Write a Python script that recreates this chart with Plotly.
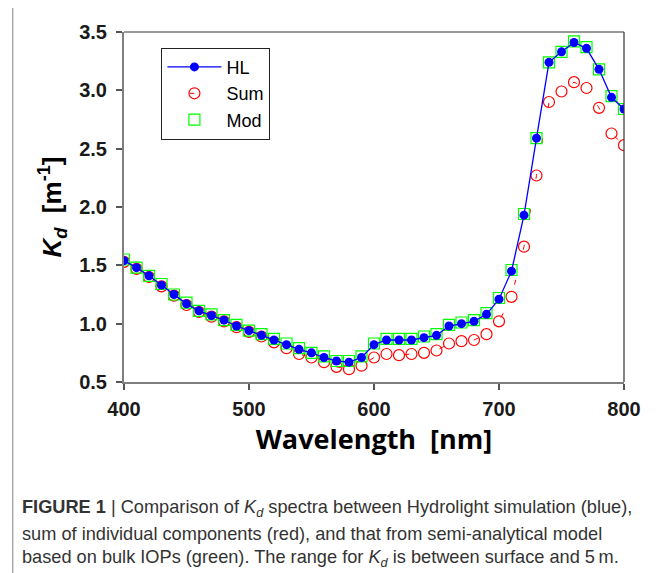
import plotly.graph_objects as go

wavelength = [400, 410, 420, 430, 440, 450, 460, 470, 480, 490,
              500, 510, 520, 530, 540, 550, 560, 570, 580, 590,
              600, 610, 620, 630, 640, 650, 660, 670, 680, 690,
              700, 710, 720, 730, 740, 750, 760, 770, 780, 790, 800]

kd_hl = [1.54, 1.48, 1.41, 1.33, 1.25, 1.17, 1.11, 1.07, 1.03, 0.98,
         0.94, 0.90, 0.86, 0.82, 0.78, 0.75, 0.71, 0.68, 0.67, 0.71,
         0.82, 0.86, 0.86, 0.86, 0.88, 0.90, 0.98, 1.00, 1.02, 1.08,
         1.21, 1.45, 1.93, 2.59, 3.24, 3.33, 3.41, 3.36, 3.18, 2.94, 2.84]

kd_sum = [1.53, 1.47, 1.40, 1.32, 1.24, 1.16, 1.10, 1.06, 1.02, 0.97,
          0.93, 0.89, 0.84, 0.79, 0.74, 0.71, 0.67, 0.63, 0.61, 0.64,
          0.71, 0.74, 0.73, 0.74, 0.75, 0.77, 0.83, 0.85, 0.86, 0.91,
          1.02, 1.23, 1.66, 2.27, 2.90, 2.99, 3.07, 3.02, 2.85, 2.63, 2.53]

kd_mod = [1.55, 1.48, 1.41, 1.34, 1.25, 1.18, 1.11, 1.08, 1.03, 0.99,
          0.94, 0.91, 0.87, 0.83, 0.79, 0.75, 0.72, 0.68, 0.68, 0.72,
          0.83, 0.87, 0.87, 0.87, 0.89, 0.91, 0.99, 1.01, 1.03, 1.09,
          1.22, 1.46, 1.94, 2.59, 3.24, 3.33, 3.42, 3.37, 3.18, 2.95, 2.84]

x_ticks = [400, 500, 600, 700, 800]
y_ticks = [0.5, 1.0, 1.5, 2.0, 2.5, 3.0, 3.5]
y_tick_text = ["0.5", "1.0", "1.5", "2.0", "2.5", "3.0", "3.5"]

caption_lines = [
    "<b>FIGURE 1</b> | Comparison of <i>K<sub>d</sub></i> spectra between Hydrolight simulation (blue),",
    "sum of individual components (red), and that from semi-analytical model",
    "based on bulk IOPs (green). The range for <i>K<sub>d</sub></i> is between surface and 5\u2009m.",
]

OFF = 8  # page body margin
W, H = 665, 573
# plot area in page pixels: x 123.5..624.5, y 32.3..382.3
PL, PR, PT, PB = 123.5, 624.5, 32.3, 382.3
L, T = PL - OFF, PT - OFF
R, B = W - (PR - OFF), H - (PB - OFF)
PW, PH = PR - PL, PB - PT


def px2x(page_px):
    return (page_px - PL) / PW


def py2y(page_py):
    return 1 - (page_py - PT) / PH


fig = go.Figure()

fig.add_trace(go.Scatter(
    x=wavelength, y=kd_sum, name="Sum", mode="lines+markers", legendrank=2,
    line=dict(color="#FF0000", width=1, dash="0px,22px,5px,9px"),
    marker=dict(symbol="circle-open", size=11, color="#FF0000", line=dict(width=1.2)),
))
fig.add_trace(go.Scatter(
    x=wavelength, y=kd_mod, name="Mod", mode="markers", legendrank=3,
    marker=dict(symbol="square-open", size=11, color="#00FF00", line=dict(width=1.2)),
))
fig.add_trace(go.Scatter(
    x=wavelength, y=kd_hl, name="HL", mode="lines+markers", legendrank=1,
    line=dict(color="#0000FF", width=1.3),
    marker=dict(symbol="circle", size=9, color="#0000FF"),
))

tick_font = dict(family="Liberation Sans, Arial, sans-serif", size=20, color="#1a1a1a", weight="bold")

fig.update_layout(
    width=W, height=H,
    margin=dict(l=L, r=R, t=T, b=B, autoexpand=False),
    paper_bgcolor="white", plot_bgcolor="white",
    showlegend=True,
    legend=dict(
        x=px2x(161), y=py2y(48), xanchor="left", yanchor="top",
        bordercolor="#222222", borderwidth=1, bgcolor="white",
        font=dict(family="Liberation Sans, Arial, sans-serif", size=18, color="black"),
        itemwidth=54, tracegroupgap=0,
    ),
    xaxis=dict(
        range=[400, 800], tickvals=x_ticks, ticks="outside", ticklen=6, tickwidth=1.5,
        tickcolor="#555555", showline=True, linecolor="#7f7f7f", linewidth=2,
        showgrid=False, zeroline=False, tickfont=tick_font, ticklabelstandoff=2,
        title=dict(text="Wavelength  [nm]", standoff=10,
                   font=dict(family="Open Sans, Liberation Sans, sans-serif", size=27,
                             color="black", weight="bold")),
    ),
    yaxis=dict(
        range=[0.5, 3.5], tickvals=y_ticks, ticktext=y_tick_text, ticks="outside",
        ticklen=6, tickwidth=1.5, tickcolor="#555555", showline=True,
        linecolor="#7f7f7f", linewidth=2, showgrid=False, zeroline=False,
        tickfont=tick_font, ticklabelstandoff=5,
        title=dict(text="<i>K<sub>d</sub></i>  [m<sup>-1</sup>]", standoff=10,
                   font=dict(family="Liberation Sans, Arial, sans-serif", size=26,
                             color="black", weight="bold")),
    ),
)

# plot box top and right edges
fig.add_shape(type="line", xref="paper", yref="paper", x0=0, x1=1, y0=1, y1=1,
              line=dict(color="#333333", width=1.2))
fig.add_shape(type="line", xref="paper", yref="paper", x0=1, x1=1, y0=0, y1=1,
              line=dict(color="#333333", width=1.2))

# figure frame (left and top)
fig.add_shape(type="line", xref="paper", yref="paper", x0=px2x(12), x1=px2x(700),
              y0=py2y(6), y1=py2y(6), line=dict(color="#999999", width=1.2))
fig.add_shape(type="line", xref="paper", yref="paper", x0=px2x(12), x1=px2x(12),
              y0=py2y(6), y1=py2y(600), line=dict(color="#999999", width=1.2))

for i, line in enumerate(caption_lines):
    fig.add_annotation(
        text=line, xref="paper", yref="paper", x=px2x(19), y=py2y(509 + 25 * i),
        xanchor="left", yanchor="middle", showarrow=False, align="left",
        font=dict(family="Liberation Sans, Arial, sans-serif", size=18.2, color="#333333"),
    )

fig.write_html("out.html")
